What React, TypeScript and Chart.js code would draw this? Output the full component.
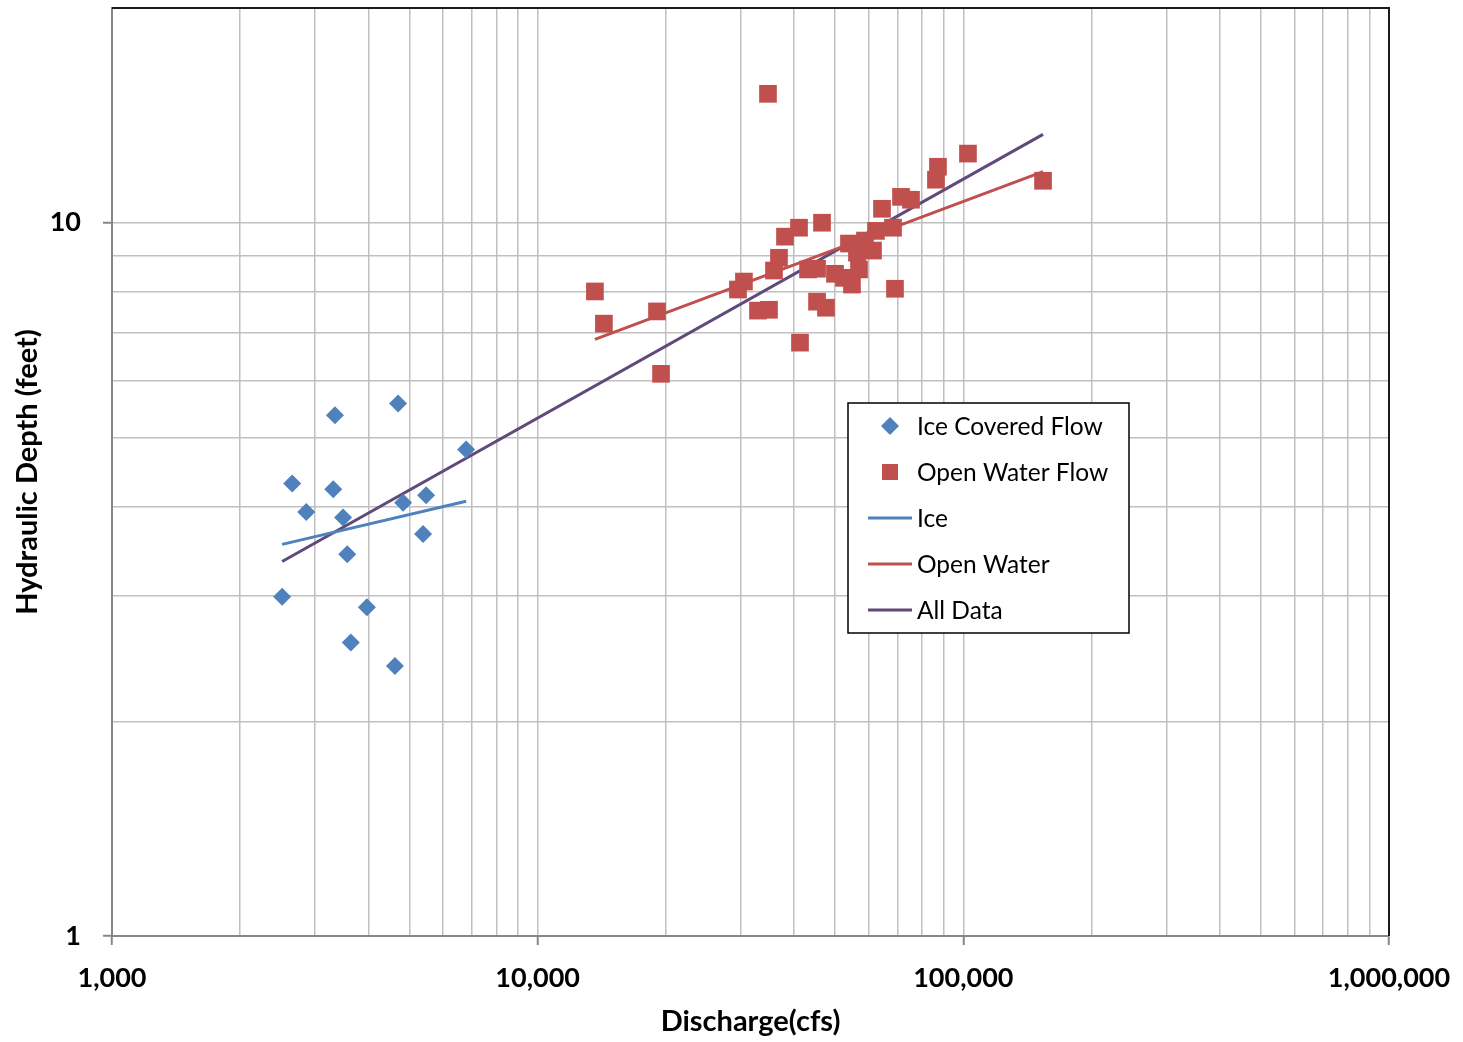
import React, { useEffect, useRef } from "react";
import { Chart, registerables } from "chart.js";

Chart.register(...registerables);

// ---- Data ----
const iceDischarge = [2510, 2650, 2860, 3340, 3310, 3490, 3570, 3640, 3970, 4620, 4700, 4830, 5380, 5470, 6790];
const iceDepth = [2.99, 4.31, 3.93, 5.37, 4.23, 3.86, 3.43, 2.58, 2.89, 2.39, 5.58, 4.05, 3.66, 4.15, 4.81];

const openDischarge = [
  13630, 14310, 19070, 19490, 29550, 30520, 32930, 34950, 41330, 34760,
  35910, 36890, 38110, 41110, 46560, 43170, 45320, 45320, 47570, 49940,
  52440, 54750, 56870, 53870, 56250, 61340, 58740, 62340, 68360, 64410,
  71380, 75340, 69090, 86240, 87180, 102540, 153900,
];
const openDepth = [
  8.01, 7.22, 7.51, 6.14, 8.06, 8.27, 7.53, 7.55, 6.79, 15.16,
  8.57, 8.93, 9.56, 9.84, 10.0, 8.6, 8.62, 7.75, 7.6, 8.48,
  8.37, 8.19, 8.6, 9.35, 9.08, 9.14, 9.44, 9.74, 9.84, 10.46,
  10.87, 10.77, 8.08, 11.49, 11.98, 12.5, 11.45,
];

const iceTrendX = [2510, 6790];
const iceTrendY = [3.54, 4.07];
const openTrendX = [13630, 153900];
const openTrendY = [6.86, 11.79];
const allTrendX = [2510, 153900];
const allTrendY = [3.35, 13.3];

const seriesLabels = ["Ice Covered Flow", "Open Water Flow", "Ice", "Open Water", "All Data"];

const xDecades = [1000, 10000, 100000];
const yDecades = [1];
const mantissas = [1, 2, 3, 4, 5, 6, 7, 8, 9];
const xMajorTicks = [1000, 10000, 100000, 1000000];
const yMajorTicks = [1, 10];
const xTickValues = [...xDecades.flatMap((d) => mantissas.map((m) => m * d)), 1000000];
const yTickValues = [...yDecades.flatMap((d) => mantissas.map((m) => m * d)), 10, 20];

const xTitle = "Discharge(cfs)";
const yTitle = "Hydraulic Depth (feet)";

const toPts = (xs: number[], ys: number[]) => xs.map((x, i) => ({ x, y: ys[i] }));

const BLUE = "#4F81BD";
const RED = "#C0504D";
const PURPLE = "#604A7B";
const GRID = "#C0C0C0";
const AXIS = "#868686";
const FONT = "Lato, 'Liberation Sans', sans-serif";

const frameAndLegend = {
  id: "frameAndLegend",
  beforeDatasetsDraw(chart: any) {
    const { ctx, chartArea } = chart;
    ctx.save();
    ctx.strokeStyle = "#1a1a1a";
    ctx.lineWidth = 2;
    ctx.beginPath();
    ctx.moveTo(chartArea.left, chartArea.top);
    ctx.lineTo(chartArea.right, chartArea.top);
    ctx.lineTo(chartArea.right, chartArea.bottom);
    ctx.stroke();
    ctx.restore();
  },
  afterDraw(chart: any) {
    const { ctx } = chart;
    const bx = 848, by = 403, bw = 281, bh = 230;
    ctx.save();
    ctx.fillStyle = "#fff";
    ctx.fillRect(bx, by, bw, bh);
    ctx.strokeStyle = "#000";
    ctx.lineWidth = 1.5;
    ctx.strokeRect(bx, by, bw, bh);
    ctx.font = `24.5px ${FONT}`;
    ctx.textBaseline = "middle";
    ctx.textAlign = "left";
    chart.data.datasets.forEach((ds: any, i: number) => {
      const cy = 426 + i * 46;
      if (ds.showLine) {
        ctx.strokeStyle = ds.borderColor;
        ctx.lineWidth = 3;
        ctx.beginPath();
        ctx.moveTo(868, cy);
        ctx.lineTo(912, cy);
        ctx.stroke();
      } else if (ds.pointStyle === "rectRot") {
        ctx.fillStyle = ds.backgroundColor;
        ctx.beginPath();
        ctx.moveTo(890, cy - 9);
        ctx.lineTo(899, cy);
        ctx.lineTo(890, cy + 9);
        ctx.lineTo(881, cy);
        ctx.closePath();
        ctx.fill();
      } else {
        ctx.fillStyle = ds.backgroundColor;
        ctx.fillRect(882, cy - 8, 16, 16);
      }
      ctx.fillStyle = "#000";
      ctx.fillText(ds.label, 917, cy + 1);
    });
    ctx.restore();
  },
};

export default function App() {
  const ref = useRef<HTMLCanvasElement | null>(null);

  useEffect(() => {
    if (!ref.current) return;
    const tickFont = { family: FONT, size: 27, weight: "bold" as const };
    const titleFont = { family: FONT, size: 29, weight: "bold" as const };
    const isMajorX = (v: number) => xMajorTicks.includes(v);
    const isMajorY = (v: number) => yMajorTicks.includes(v);

    const chart = new Chart(ref.current, {
      type: "scatter",
      data: {
        datasets: [
          {
            label: seriesLabels[0],
            data: toPts(iceDischarge, iceDepth),
            pointStyle: "rectRot",
            pointRadius: 9,
            backgroundColor: BLUE,
            borderColor: BLUE,
            borderWidth: 0,
            showLine: false,
          },
          {
            label: seriesLabels[1],
            data: toPts(openDischarge, openDepth),
            pointStyle: "rect",
            pointRadius: 12.5,
            backgroundColor: RED,
            borderColor: RED,
            borderWidth: 0,
            showLine: false,
          },
          {
            label: seriesLabels[2],
            data: toPts(iceTrendX, iceTrendY),
            showLine: true,
            borderColor: BLUE,
            backgroundColor: BLUE,
            borderWidth: 3,
            pointRadius: 0,
          },
          {
            label: seriesLabels[3],
            data: toPts(openTrendX, openTrendY),
            showLine: true,
            borderColor: RED,
            backgroundColor: RED,
            borderWidth: 3,
            pointRadius: 0,
          },
          {
            label: seriesLabels[4],
            data: toPts(allTrendX, allTrendY),
            showLine: true,
            borderColor: PURPLE,
            backgroundColor: PURPLE,
            borderWidth: 3,
            pointRadius: 0,
          },
        ],
      },
      options: {
        animation: false,
        responsive: false,
        maintainAspectRatio: false,
        layout: { autoPadding: false, padding: { top: 8, right: 74, left: 0, bottom: 0 } },
        plugins: {
          legend: { display: false },
          tooltip: { enabled: false },
        },
        scales: {
          x: {
            type: "logarithmic",
            min: 1000,
            max: 1000000,
            afterBuildTicks: (s: any) => {
              s.ticks = xTickValues.map((v) => ({ value: v }));
            },
            afterFit: (s: any) => {
              s.height = 106;
              s.paddingLeft = 0;
              s.paddingRight = 0;
            },
            ticks: {
              autoSkip: false,
              maxRotation: 0,
              padding: 17,
              color: "#000",
              font: tickFont,
              callback: (v: any) => (isMajorX(Number(v)) ? Number(v).toLocaleString("en-US") : ""),
            },
            grid: {
              color: GRID,
              lineWidth: 1.5,
              tickLength: 9,
              tickColor: (c: any) => (c.tick && isMajorX(c.tick.value) ? AXIS : "rgba(0,0,0,0)"),
              tickWidth: 2,
            },
            border: { color: AXIS, width: 2 },
            title: {
              display: true,
              text: xTitle,
              color: "#000",
              font: titleFont,
              padding: { top: 0, bottom: 3 },
            },
          },
          y: {
            type: "logarithmic",
            min: 1,
            max: 20,
            afterBuildTicks: (s: any) => {
              s.ticks = yTickValues.map((v) => ({ value: v }));
            },
            afterFit: (s: any) => {
              s.width = 112;
              s.paddingTop = 0;
              s.paddingBottom = 0;
            },
            ticks: {
              autoSkip: false,
              padding: 22,
              color: "#000",
              font: tickFont,
              callback: (v: any) => (isMajorY(Number(v)) ? String(v) : ""),
            },
            grid: {
              color: GRID,
              lineWidth: 1.5,
              tickLength: 9,
              tickColor: (c: any) => (c.tick && isMajorY(c.tick.value) ? AXIS : "rgba(0,0,0,0)"),
              tickWidth: 2,
            },
            border: { color: AXIS, width: 2 },
            title: {
              display: true,
              text: yTitle,
              color: "#000",
              font: titleFont,
              padding: { top: 10, bottom: 0 },
            },
          },
        },
      },
      plugins: [frameAndLegend],
    });
    return () => chart.destroy();
  }, []);

  return (
    <div style={{ position: "absolute", left: 0, top: 0, width: 1463, height: 1042, background: "#fff" }}>
      <canvas ref={ref} width={1463} height={1042} style={{ display: "block" }} />
    </div>
  );
}
